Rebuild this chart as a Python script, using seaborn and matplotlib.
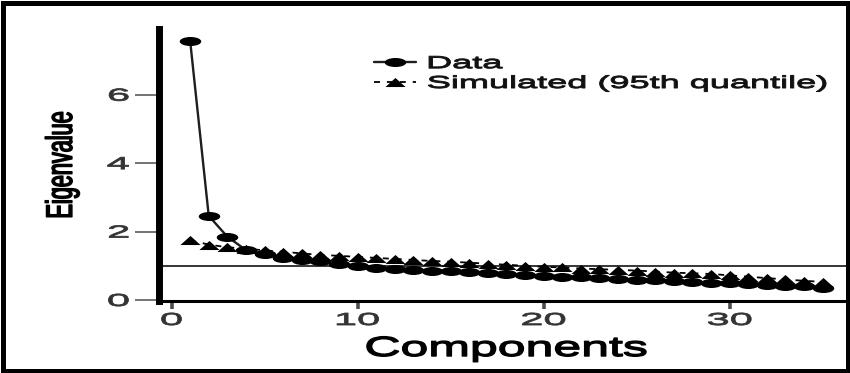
import matplotlib
matplotlib.use("Agg")
import matplotlib.pyplot as plt
import seaborn as sns
from matplotlib.path import Path
from matplotlib.transforms import Affine2D
from matplotlib.patheffects import AbstractPathEffect
from matplotlib.patches import Rectangle

# ---- values ---------------------------------------------------------------
components = list(range(1, 36))
data_eigen = [7.58, 2.46, 1.85, 1.46, 1.35, 1.22, 1.18, 1.15, 1.05, 0.98,
              0.94, 0.91, 0.88, 0.86, 0.84, 0.81, 0.78, 0.75, 0.72, 0.70,
              0.68, 0.66, 0.63, 0.61, 0.59, 0.57, 0.55, 0.53, 0.51, 0.49,
              0.47, 0.45, 0.42, 0.40, 0.36]
sim_eigen = [1.74, 1.62, 1.54, 1.50, 1.45, 1.41, 1.36, 1.32, 1.29, 1.26,
             1.23, 1.20, 1.17, 1.14, 1.12, 1.09, 1.06, 1.03, 1.00, 0.97,
             0.95, 0.92, 0.90, 0.88, 0.86, 0.83, 0.80, 0.78, 0.76, 0.72,
             0.68, 0.64, 0.60, 0.56, 0.53]
series_labels = ["Data", "Simulated (95th quantile)"]
x_ticks = [0, 10, 20, 30]
y_ticks = [0, 2, 4, 6]
kaiser_level = 1.0
x_title = "Components"
y_title = "Eigenvalue"


class Stretch(AbstractPathEffect):
    """Draw a text path widened/narrowed about an anchor of its ink box,
    optionally thickened with an outline in the text colour."""

    def __init__(self, sx=1.0, sy=1.0, anchor=(0.5, 0.5), stroke=0.0):
        super().__init__()
        self.sx, self.sy, self.anchor, self.stroke = sx, sy, anchor, stroke

    def draw_path(self, renderer, gc, tpath, affine, rgbFace=None):
        ext = tpath.get_extents()
        cx = ext.x0 + self.anchor[0] * ext.width
        cy = ext.y0 + self.anchor[1] * ext.height
        pre = Affine2D().translate(-cx, -cy).scale(self.sx, self.sy).translate(cx, cy)
        trans = pre + affine
        if self.stroke > 0 and rgbFace is not None:
            gc0 = renderer.new_gc()
            gc0.copy_properties(gc)
            gc0.set_linewidth(self.stroke)
            gc0.set_foreground(rgbFace)
            gc0.set_joinstyle("round")
            renderer.draw_path(gc0, tpath, trans, rgbFace)
            gc0.restore()
        else:
            renderer.draw_path(gc, tpath, trans, rgbFace)


sns.set_style("ticks")
plt.rcParams["font.family"] = ["Liberation Sans", "DejaVu Sans"]
plt.rcParams["lines.scale_dashes"] = False

# wide, flat marker shapes
circ = Path.unit_circle()
wide_dot = Path(circ.vertices * [1.0, 0.42], circ.codes)
wide_tri = Path([(-1, -0.45), (1, -0.45), (0, 0.45), (-1, -0.45)],
                [Path.MOVETO, Path.LINETO, Path.LINETO, Path.CLOSEPOLY])

W, H = 850, 373
fig = plt.figure(figsize=(W / 100, H / 100), dpi=100)
fig.patch.set_facecolor("white")
ax = fig.add_axes([158.5 / W, 1 - 300.5 / H, (W - 158.5) / W, (300.5 - 29) / H])

ax.axhline(kaiser_level, color="black", lw=1.1, zorder=2)

sns.lineplot(x=components, y=sim_eigen, ax=ax, color="black",
             marker=wide_tri, markersize=14.5, markeredgewidth=0,
             linewidth=1.3, linestyle=(0, (4.3, 5.0)), zorder=3)
sim_line = ax.lines[-1]
sns.lineplot(x=components, y=data_eigen, ax=ax, color="black",
             marker=wide_dot, markersize=15.5, markeredgewidth=0,
             linewidth=1.7, zorder=4)
data_line = ax.lines[-1]
data_line.set_color("#1e1e1e")
data_line.set_markerfacecolor("black")

ax.set_xlim(-0.70, 36.47)
ax.set_ylim(-0.015, 7.92)
ax.set_xticks(x_ticks)
ax.set_yticks(y_ticks)

sns.despine(ax=ax)
ax.spines["left"].set_linewidth(5.0)
ax.spines["bottom"].set_linewidth(2.2)
for s in ("left", "bottom"):
    ax.spines[s].set_color("black")

ax.tick_params(axis="y", length=17.6, width=1.1, color="#4d4d4d", pad=3.6,
               labelsize=12.5, labelcolor="#333333")
ax.tick_params(axis="x", length=5.4, width=2.6, color="#4d4d4d", pad=3.6,
               labelsize=12.5, labelcolor="#333333")
for t in ax.get_yticklabels():
    t.set_path_effects([Stretch(sx=2.4, anchor=(1.0, 0.5), stroke=0.6)])
for t in ax.get_xticklabels():
    t.set_path_effects([Stretch(sx=2.4, anchor=(0.5, 0.5), stroke=0.6)])

ax.set_xlabel(x_title, fontsize=20, color="black")
ax.xaxis.set_label_coords(0.5025, -0.1308)
ax.xaxis.label.set_path_effects([Stretch(sx=1.8, anchor=(0.5, 0.5), stroke=1.0)])

ax.set_ylabel(y_title, fontsize=15.6, color="black")
ax.yaxis.set_label_coords(-0.1135, 0.499)
ax.yaxis.label.set_path_effects([Stretch(sy=1.7, anchor=(0.5, 0.0), stroke=1.1)])

leg = ax.legend(handles=[data_line, sim_line], labels=series_labels,
                loc="upper left", bbox_to_anchor=(374 / W, 1 - 56 / H),
                bbox_transform=fig.transFigure, frameon=False, borderpad=0,
                borderaxespad=0, handlelength=2.4, handletextpad=0.69,
                labelspacing=0.27, fontsize=12.5)
for t in leg.get_texts():
    t.set_color("#111111")
    t.set_path_effects([Stretch(sx=2.08, anchor=(0.0, 0.5), stroke=0.7)])

# outer frame around the whole figure
fig.add_artist(Rectangle((2.5 / W, 2.5 / H), (W - 5) / W, (H - 5) / H,
                         transform=fig.transFigure, fill=False,
                         edgecolor="black", linewidth=3.6, zorder=10))

fig.savefig("out.png", dpi=100)
